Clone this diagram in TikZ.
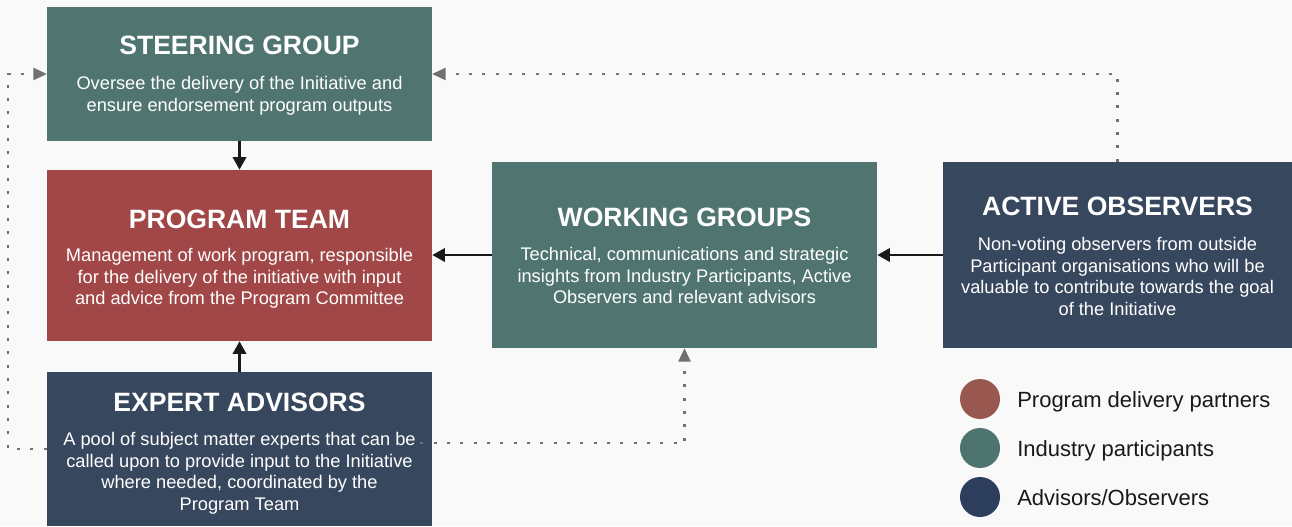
\documentclass[tikz,border=0pt]{standalone}
\usepackage{fontspec}
\setmainfont{Liberation Sans}
\usetikzlibrary{arrows.meta,calc}
\definecolor{bg}{HTML}{F9F9F9}
\definecolor{teal}{HTML}{507470}
\definecolor{redb}{HTML}{A14747}
\definecolor{navy}{HTML}{37475E}
\definecolor{lred}{HTML}{985850}
\definecolor{lteal}{HTML}{4E746F}
\definecolor{lnavy}{HTML}{2C3E5C}
\definecolor{dotc}{HTML}{707070}
\tikzset{
  boxshape/.style={draw=none, inner sep=0pt, minimum width=288.75pt},
  ttl/.style={anchor=north, inner sep=0pt, text=white, font=\fontsize{19.9pt}{22pt}\selectfont\bfseries},
  body/.style={anchor=north, inner sep=0pt, text=white, align=center, font=\fontsize{13.7pt}{16.3pt}\selectfont},
  solidarrow/.style={draw=black!90, line width=1.9pt, -{Triangle[length=9.5pt,width=10pt]}},
  dotarrow/.style={draw=dotc, line width=2.2pt, dash pattern=on 2.2pt off 7.8pt, -{Triangle[length=10pt,width=9.5pt,line width=0pt]}},
  legdot/.style={circle, inner sep=0pt, minimum size=30pt},
  legtxt/.style={anchor=base west, inner sep=0pt, text=black!90, font=\fontsize{16.5pt}{19pt}\selectfont},
}
\begin{document}
\begin{tikzpicture}[x=0.75pt,y=-0.75pt]
\path[fill=bg] (0,0) rectangle (1292,526);
\useasboundingbox (0,0) rectangle (1292,526);
% boxes
\node[boxshape, fill=teal, minimum height=100.5pt] (s) at (239.5,74) {};
\node[boxshape, fill=redb, minimum height=128.25pt] (p) at (239.5,255.5) {};
\node[boxshape, fill=navy, minimum height=115.5pt] (e) at (239.5,449) {};
\node[boxshape, fill=teal, minimum height=139.5pt] (w) at (684.5,255) {};
\node[boxshape, fill=navy, minimum width=261.75pt, minimum height=139.5pt] (a) at (1117.5,255) {};
% texts
\node[ttl] (st) at (239.5,36) {STEERING GROUP};
\node[body] (sb) at (239.5,76) {Oversee the delivery of the Initiative and\\ensure endorsement program outputs};
\node[ttl] (pt) at (239.5,210) {PROGRAM TEAM};
\node[body] (pb) at (239.5,248) {Management of work program, responsible\\for the delivery of the initiative with input\\and advice from the Program Committee};
\node[ttl] (wt) at (684.5,208) {WORKING GROUPS};
\node[body] (wb) at (684.5,247) {Technical, communications and strategic\\insights from Industry Participants, Active\\Observers and relevant advisors};
\node[ttl] (at) at (1117.5,197) {ACTIVE OBSERVERS};
\node[body] (ab) at (1117.5,237) {Non-voting observers from outside\\Participant organisations who will be\\valuable to contribute towards the goal\\of the Initiative};
\node[ttl] (et) at (239.5,393) {EXPERT ADVISORS};
\node[body] (eb) at (239.5,432) {A pool of subject matter experts that can be\\called upon to provide input to the Initiative\\where needed, coordinated by the\\Program Team};
% solid arrows
\draw[solidarrow] (s.south) -- (p.north);
\draw[solidarrow] (e.north) -- (p.south);
\draw[solidarrow] (w.west) -- (w.west -| p.east);
\draw[solidarrow] (a.west) -- (a.west -| w.east);
% dotted arrows
\coordinate (l1) at (8,449);
\draw[dotarrow] (e.west) -- (l1) |- (s.west);
\draw[dotarrow] (a.north) |- (s.east);
\coordinate (b0) at ($(e.east)+(-12,-6)$);
\draw[dotarrow] (b0) -| (w.south);
% legend
\node[legdot, fill=lred] (c1) at (980,399) {};
\node[legdot, fill=lteal] (c2) at (980,448) {};
\node[legdot, fill=lnavy] (c3) at (980,497) {};
\node[legtxt] (t1) at (1017,407) {Program delivery partners};
\node[legtxt] (t2) at (1017,456) {Industry participants};
\node[legtxt] (t3) at (1017,505) {Advisors/Observers};
\end{tikzpicture}
\end{document}
